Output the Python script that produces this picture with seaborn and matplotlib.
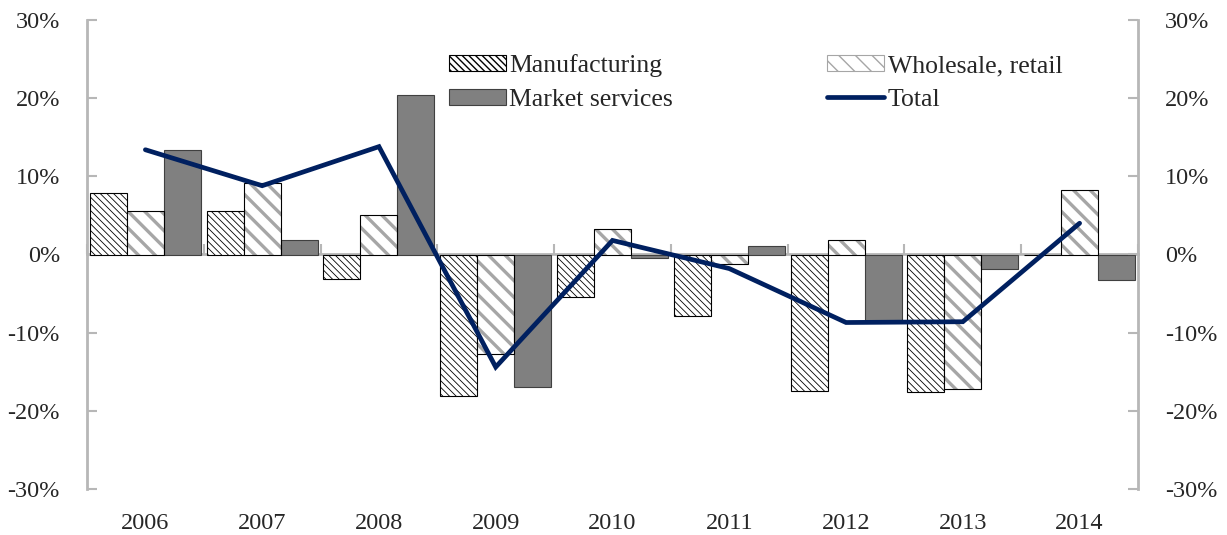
import numpy as np
import pandas as pd
import matplotlib
matplotlib.use("Agg")
import matplotlib.pyplot as plt
import seaborn as sns
from matplotlib.patches import Patch, Rectangle
from matplotlib.lines import Line2D

# Year-on-year change by sector, per cent
years = ["2006", "2007", "2008", "2009", "2010", "2011", "2012", "2013", "2014"]
manufacturing = [7.9, 5.6, -3.1, -18.1, -5.5, -7.9, -17.4, -17.6, 0.0]
wholesale_retail = [5.6, 9.2, 5.0, -12.7, 3.2, -1.2, 1.9, -17.2, 8.3]
market_services = [13.4, 1.8, 20.4, -16.9, -0.4, 1.1, -8.5, -1.8, -3.2]
total = [13.4, 8.8, 13.8, -14.4, 1.8, -1.8, -8.7, -8.6, 4.0]
sectors = ["Manufacturing", "Wholesale, retail", "Market services"]
ytick_values = [-30, -20, -10, 0, 10, 20, 30]
ytick_labels = ["-30%", "-20%", "-10%", "0%", "10%", "20%", "30%"]

sns.set_theme(style="white")
plt.rcParams["font.family"] = ["Liberation Serif", "DejaVu Serif"]
FS = 17.5
LEG_FS = 18.5
AXIS_GRAY = "#b7b7b7"
NAVY = "#002060"
MS_GRAY = "#808080"
HATCH_GRAY = "#a6a6a6"
HATCH_M = "\\" * 5
HATCH_W = "\\" * 2

df = pd.DataFrame({
    "year": years * 3,
    "sector": [s for s in sectors for _ in years],
    "value": manufacturing + wholesale_retail + market_services,
})

fig = plt.figure(figsize=(12.27, 5.35), dpi=100)
ax = fig.add_axes([87 / 1227, 1 - 489 / 535, (1138 - 87) / 1227, (489 - 20) / 535])

sns.barplot(data=df, x="year", y="value", hue="sector", hue_order=sectors,
            order=years, width=0.95, gap=0, dodge=True, legend=False,
            palette=["white", "white", MS_GRAY], saturation=1,
            edgecolor="black", linewidth=0.8, ax=ax, zorder=2)

cont_m, cont_w, cont_s = ax.containers[:3]


def style_hatch(patch, hatch, hlw):
    patch.set_hatch(hatch)
    if hasattr(patch, "set_hatch_linewidth"):
        patch.set_hatch_linewidth(hlw)


for p in cont_m.patches:
    p.set_edgecolor("black")
    style_hatch(p, HATCH_M, 0.6)

for p in cont_w.patches:
    p.set_edgecolor(HATCH_GRAY)
    p.set_linewidth(0)
    style_hatch(p, HATCH_W, 2.4)
    ax.add_patch(Rectangle((p.get_x(), p.get_y()), p.get_width(), p.get_height(),
                           fill=False, edgecolor="black", linewidth=0.8, zorder=2.1))

for p in cont_s.patches:
    p.set_edgecolor("#404040")

# Total line on the category centres
sns.lineplot(x=np.arange(len(years)), y=total, color=NAVY, linewidth=3.4,
             ax=ax, zorder=4, solid_joinstyle="miter")

ax.set_ylim(-30, 30)
ax.set_xlim(-0.5, len(years) - 0.5)
ax.set_yticks(ytick_values)
ax.set_yticklabels(ytick_labels, fontsize=FS)
ax.set_xlabel("")
ax.set_ylabel("")
ax.tick_params(axis="x", length=0, pad=17, labelsize=FS)
ax.tick_params(axis="y", direction="in", length=7, width=1.5, color=AXIS_GRAY,
               pad=19.5, labelsize=FS)
for side in ("top", "bottom", "right"):
    ax.spines[side].set_visible(False)
ax.spines["left"].set_color(AXIS_GRAY)
ax.spines["left"].set_linewidth(2)

# Right-hand axis mirroring the scale
ax2 = ax.twinx()
ax2.set_ylim(ax.get_ylim())
ax2.set_yticks(ytick_values)
ax2.set_yticklabels(ytick_labels, fontsize=FS)
ax2.tick_params(axis="y", direction="in", length=7, width=1.5, color=AXIS_GRAY,
                pad=19.5, labelsize=FS)
for side in ("top", "bottom", "left"):
    ax2.spines[side].set_visible(False)
ax2.spines["right"].set_color(AXIS_GRAY)
ax2.spines["right"].set_linewidth(2)
ax2.grid(False)

# Zero line with category separators
sec = ax.secondary_xaxis(0.5)
sec.set_xticks(np.arange(-0.5, len(years), 1.0))
sec.set_xticklabels([])
sec.tick_params(axis="x", which="both", direction="out", length=7, width=1.5,
                color=AXIS_GRAY, labeltop=False, labelbottom=False)
for sp in sec.spines.values():
    sp.set_color(AXIS_GRAY)
    sp.set_linewidth(2)

# Legend
h_m = Patch(facecolor="white", edgecolor="black", hatch=HATCH_M, linewidth=0.8)
h_w = Patch(facecolor="white", edgecolor=HATCH_GRAY, hatch=HATCH_W, linewidth=0.8)
h_s = Patch(facecolor=MS_GRAY, edgecolor="#404040", linewidth=0.8)
h_t = Line2D([], [], color=NAVY, linewidth=3.4)
fig.legend([h_m, h_s, h_w, h_t],
           ["Manufacturing", "Market services", "Wholesale, retail", "Total"],
           ncol=2, loc="upper left", bbox_to_anchor=(449 / 1227, 1 - 54 / 535),
           frameon=False, fontsize=LEG_FS, borderpad=0, borderaxespad=0,
           handlelength=2.2, handleheight=0.6, handletextpad=0.15,
           columnspacing=6.0, labelspacing=0.45)

fig.savefig("out.png", dpi=100)
